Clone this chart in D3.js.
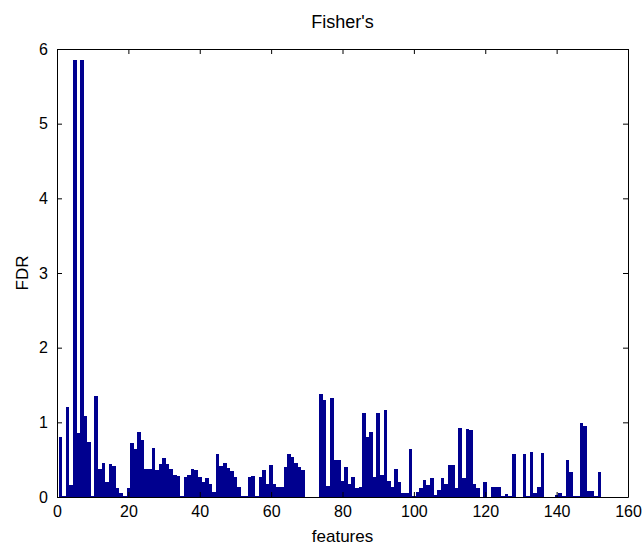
<!DOCTYPE html>
<html lang="en">
<head>
<meta charset="UTF-8">
<title>Fisher's</title>
<script src="https://cdnjs.cloudflare.com/ajax/libs/d3/7.8.5/d3.min.js"></script>
<style>
body { margin: 0; background: #fff; }
text { font-family: "Liberation Sans", Arial, sans-serif; fill: #000; }
</style>
</head>
<body>
<div id="chart"></div>
<script>
// FDR value per feature (features 1..152)
var fdr = [
  0.80, 0.02, 1.20, 0.16, 5.85, 0.86, 5.85, 1.08, 0.74, 0.01,
  1.35, 0.37, 0.45, 0.20, 0.44, 0.42, 0.12, 0.05, 0.01, 0.12,
  0.72, 0.64, 0.87, 0.77, 0.37, 0.38, 0.66, 0.36, 0.44, 0.52,
  0.44, 0.38, 0.30, 0.28, 0.01, 0.27, 0.29, 0.38, 0.36, 0.27,
  0.20, 0.25, 0.18, 0.07, 0.58, 0.41, 0.45, 0.39, 0.35, 0.27,
  0.13, 0.01, 0.01, 0.27, 0.28, 0.02, 0.27, 0.36, 0.18, 0.43,
  0.18, 0.13, 0.13, 0.40, 0.58, 0.53, 0.46, 0.40, 0.36, 0.00,
  0.00, 0.00, 0.00, 1.38, 1.30, 0.15, 1.33, 0.49, 0.49, 0.22,
  0.40, 0.18, 0.27, 0.12, 0.13, 1.13, 0.80, 0.87, 0.27, 1.13,
  0.30, 1.16, 0.22, 0.14, 0.38, 0.20, 0.05, 0.05, 0.64, 0.01,
  0.07, 0.12, 0.23, 0.16, 0.25, 0.03, 0.09, 0.25, 0.18, 0.43,
  0.43, 0.12, 0.92, 0.25, 0.91, 0.90, 0.18, 0.12, 0.00, 0.20,
  0.00, 0.14, 0.14, 0.14, 0.01, 0.04, 0.01, 0.57, 0.00, 0.00,
  0.57, 0.01, 0.60, 0.05, 0.14, 0.59, 0.00, 0.00, 0.00, 0.03,
  0.05, 0.01, 0.50, 0.33, 0.01, 0.01, 0.99, 0.95, 0.08, 0.08,
  0.01, 0.33
];
var xTicks = [0, 20, 40, 60, 80, 100, 120, 140, 160];
var yTicks = [0, 1, 2, 3, 4, 5, 6];
var xDomain = [0, 160];
var yDomain = [0, 6];

var W = 643, H = 546;
var margin = {top: 49, right: 15, bottom: 49, left: 57};
var width = W - margin.left - margin.right,
    height = H - margin.top - margin.bottom;

var x = d3.scaleLinear().domain(xDomain).range([0, width]);
var y = d3.scaleLinear().domain(yDomain).range([height, 0]);

var svg = d3.select("#chart").append("svg")
    .attr("width", W)
    .attr("height", H);

var g = svg.append("g")
    .attr("transform", "translate(" + margin.left + "," + margin.top + ")");

// bars, width 1 feature, touching
g.selectAll("rect.bar")
    .data(fdr)
    .enter()
    .append("rect")
    .attr("class", "bar")
    .attr("x", function(d, i) { return x(i + 0.5); })
    .attr("width", function(d, i) { return x(i + 1.5) - x(i + 0.5); })
    .attr("y", function(d) { return y(d); })
    .attr("height", function(d) { return y(0) - y(d); })
    .attr("shape-rendering", "crispEdges")
    .style("fill", "#00008f");

// axes, matlab box style: ticks inward on all four sides
var tickLen = 5;
var axBottom = g.append("g")
    .attr("transform", "translate(0," + height + ")")
    .call(d3.axisBottom(x).tickValues(xTicks).tickSizeInner(-tickLen).tickSizeOuter(0).tickPadding(9));
var axTop = g.append("g")
    .call(d3.axisTop(x).tickValues(xTicks).tickSizeInner(-tickLen).tickSizeOuter(0).tickFormat(""));
var axLeft = g.append("g")
    .call(d3.axisLeft(y).tickValues(yTicks).tickFormat(d3.format("d")).tickSizeInner(-tickLen).tickSizeOuter(0).tickPadding(9));
var axRight = g.append("g")
    .attr("transform", "translate(" + width + ",0)")
    .call(d3.axisRight(y).tickValues(yTicks).tickSizeInner(-tickLen).tickSizeOuter(0).tickFormat(""));

[axBottom, axTop, axLeft, axRight].forEach(function(a) {
    a.selectAll("path").attr("stroke", "#000").attr("stroke-width", 1);
    a.selectAll("line").attr("stroke", "#000");
    a.selectAll("text")
        .style("font-size", "16px")
        .style("font-family", "'Liberation Sans', Arial, sans-serif")
        .attr("fill", "#222");
});

// title and axis labels
svg.append("text")
    .attr("x", margin.left + width / 2)
    .attr("y", 28)
    .attr("text-anchor", "middle")
    .style("font-size", "18px")
    .text("Fisher's");

svg.append("text")
    .attr("x", margin.left + width / 2)
    .attr("y", 542)
    .attr("text-anchor", "middle")
    .style("font-size", "17px")
    .attr("fill", "#222")
    .text("features");

svg.append("text")
    .attr("transform", "translate(28," + (margin.top + height / 2) + ") rotate(-90)")
    .attr("text-anchor", "middle")
    .style("font-size", "17px")
    .attr("fill", "#222")
    .text("FDR");
</script>
</body>
</html>
